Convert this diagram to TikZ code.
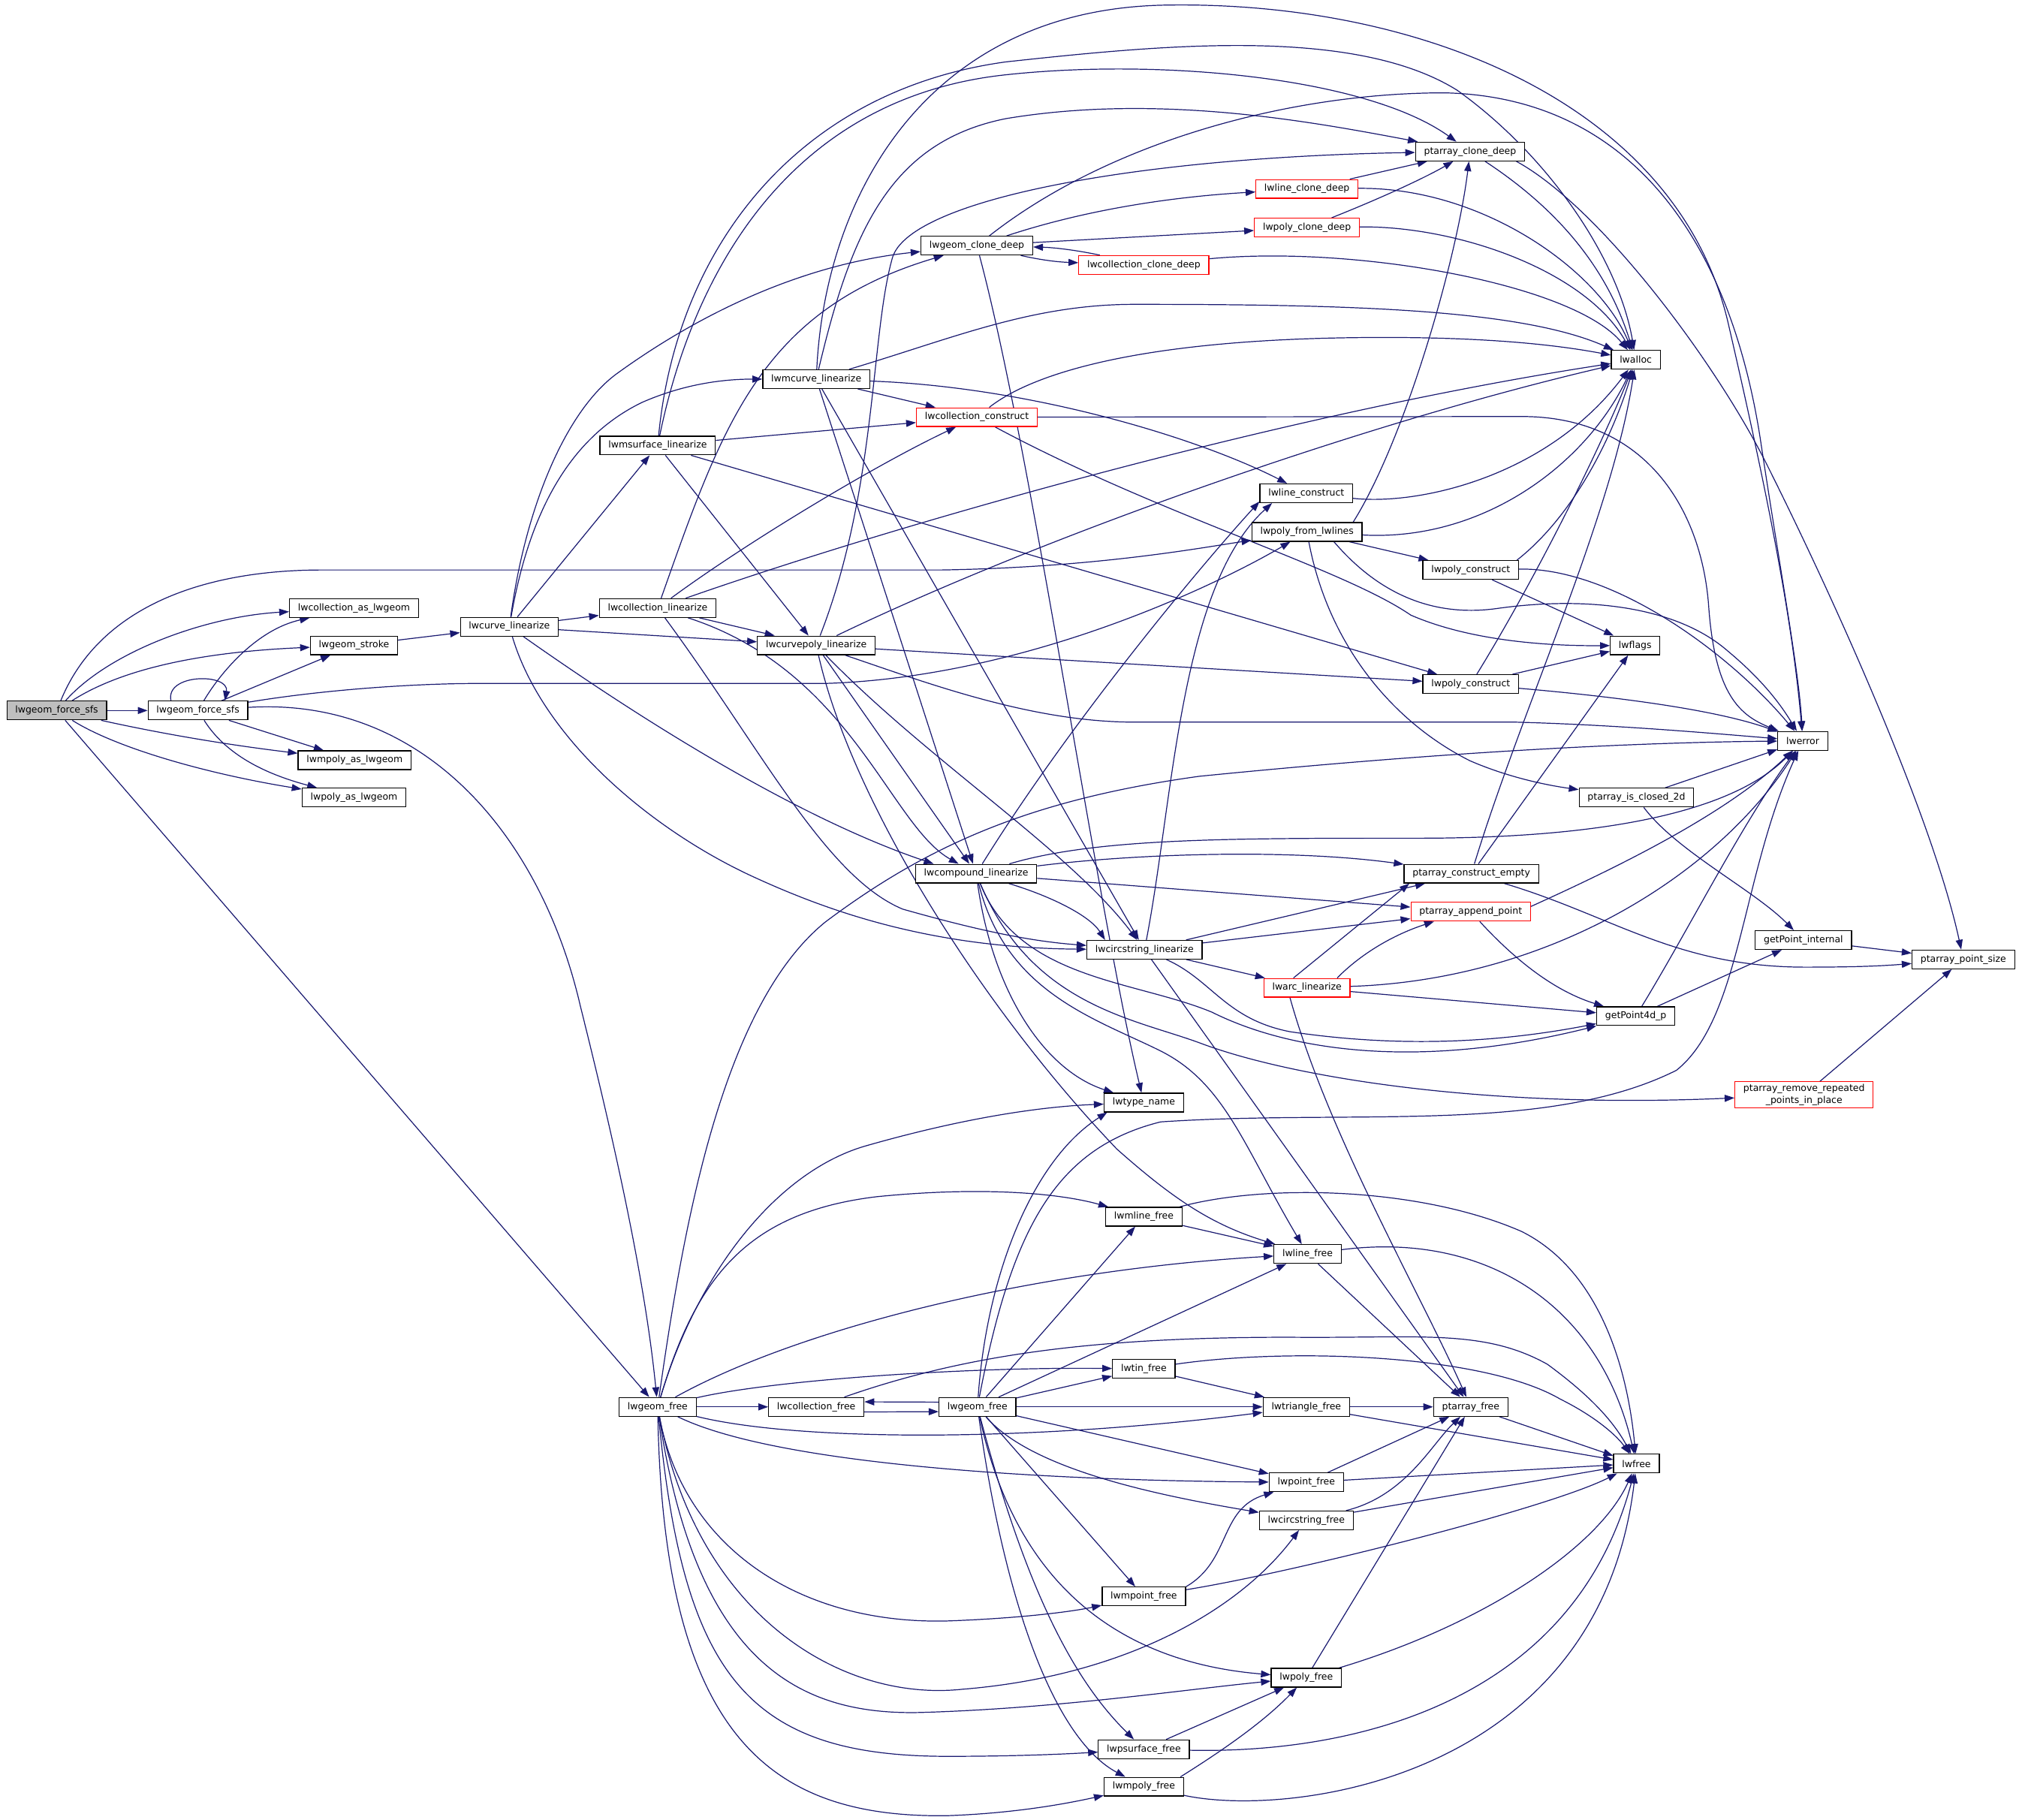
\documentclass[tikz,border=0pt]{standalone}
\usepackage{fontspec}
\setmainfont{DejaVu Sans}
\usetikzlibrary{arrows.meta}
\definecolor{edgeblue}{HTML}{191970}
\definecolor{rootgray}{HTML}{BFBFBF}
\pgfdeclarelayer{edges}
\pgfsetlayers{edges,main}

\begin{document}
\begin{tikzpicture}[x=0.03cm, y=-0.03cm,
    fn/.style={draw=black, line width=0.6pt, fill=white, minimum height=12.4pt, inner xsep=5.6pt, inner ysep=1.7pt, font=\fontsize{6.2}{7.6}\selectfont},
    fnred/.style={fn, draw=red},
    fnroot/.style={fn, fill=rootgray},
    calls/.style={draw=edgeblue, line width=0.6pt, -{Triangle[length=6.5pt,width=4.6pt]}}]
    \useasboundingbox (0,0) rectangle (1568,1411);

    \node [fnroot] (forcesfs) at (44,551) {lwgeom\_force\_sfs};
    \node [fn] (forcesfsb) at (153.5,551) {lwgeom\_force\_sfs};
    \node [fn] (collaslw) at (274.5,471.5) {lwcollection\_as\_lwgeom};
    \node [fn] (stroke) at (274.5,500.5) {lwgeom\_stroke};
    \node [fn] (mpolyaslw) at (275,589.5) {lwmpoly\_as\_lwgeom};
    \node [fn] (polyaslw) at (274.5,618.5) {lwpoly\_as\_lwgeom};
    \node [fn] (curvelin) at (395,486) {lwcurve\_linearize};
    \node [fn] (msurflin) at (510,345.5) {lwmsurface\_linearize};
    \node [fn] (colllin) at (510,471.5) {lwcollection\_linearize};
    \node [fn] (freeA) at (510,1091) {lwgeom\_free};
    \node [fn] (mcurvelin) at (633,294) {lwmcurve\_linearize};
    \node [fn] (cpolylin) at (633,500.5) {lwcurvepoly\_linearize};
    \node [fn] (collfree) at (633,1091) {lwcollection\_free};
    \node [fn] (clonedeep) at (757.5,190.5) {lwgeom\_clone\_deep};
    \node [fnred] (collconstr) at (757.5,323.5) {lwcollection\_construct};
    \node [fn] (complin) at (757,677.5) {lwcompound\_linearize};
    \node [fn] (freeB) at (758,1091) {lwgeom\_free};
    \node [fnred] (collclone) at (887,205.5) {lwcollection\_clone\_deep};
    \node [fn] (circlin) at (887.5,736.5) {lwcircstring\_linearize};
    \node [fn] (typename) at (887,855) {lwtype\_name};
    \node [fn] (mlinefree) at (887,943.5) {lwmline\_free};
    \node [fn] (tinfree) at (887,1061.5) {lwtin\_free};
    \node [fn] (mpointfree) at (887,1238) {lwmpoint\_free};
    \node [fn] (psurffree) at (887,1356.5) {lwpsurface\_free};
    \node [fn] (mpolyfree) at (887,1385.5) {lwmpoly\_free};
    \node [fnred] (lineclone) at (1013.5,146.5) {lwline\_clone\_deep};
    \node [fnred] (polyclone) at (1013.5,176.5) {lwpoly\_clone\_deep};
    \node [fn] (lineconstr) at (1013,382.5) {lwline\_construct};
    \node [fn] (polyfromlines) at (1013.5,412.5) {lwpoly\_from\_lwlines};
    \node [fnred] (arclin) at (1013.5,766) {lwarc\_linearize};
    \node [fn] (linefree) at (1014,972.5) {lwline\_free};
    \node [fn] (trifree) at (1013,1091) {lwtriangle\_free};
    \node [fn] (pointfree) at (1013,1149.5) {lwpoint\_free};
    \node [fn] (circfree) at (1013,1179) {lwcircstring\_free};
    \node [fn] (polyfree) at (1013,1301) {lwpoly\_free};
    \node [fn] (ptclone) at (1140,117.5) {ptarray\_clone\_deep};
    \node [fn] (polyconA) at (1140.5,442) {lwpoly\_construct};
    \node [fn] (polyconB) at (1140.5,530.5) {lwpoly\_construct};
    \node [fn] (ptempty) at (1141,677.5) {ptarray\_construct\_empty};
    \node [fnred] (ptappend) at (1140.5,707) {ptarray\_append\_point};
    \node [fn] (ptfree) at (1140.5,1091) {ptarray\_free};
    \node [fn] (lwalloc) at (1268.5,279) {lwalloc};
    \node [fn] (lwflags) at (1268,500.5) {lwflags};
    \node [fn] (closed2d) at (1269,618.5) {ptarray\_is\_closed\_2d};
    \node [fn] (getp4d) at (1268.5,788) {getPoint4d\_p};
    \node [fn] (lwfree) at (1269,1135) {lwfree};
    \node [fn] (lwerror) at (1398,574.5) {lwerror};
    \node [fn] (getpint) at (1398.5,729) {getPoint\_internal};
    \node [fnred, align=center] (ptremove) at (1399,849) {ptarray\_remove\_repeated\\\_points\_in\_place};
    \node [fn] (ptsize) at (1522.5,744) {ptarray\_point\_size};

    \begin{pgfonlayer}{edges}
    \draw [calls] (forcesfs) .. controls (75,475) and (150,442) .. (250,442) -- (730,442) .. controls (850,440) and (930,425) .. (polyfromlines);
    \draw [calls] (forcesfs) .. controls (85,505) and (160,478) .. (collaslw);
    \draw [calls] (forcesfs) .. controls (100,515) and (170,505) .. (stroke);
    \draw [calls] (forcesfs) -- (forcesfsb);
    \draw [calls] (forcesfs) .. controls (130,570) and (180,578) .. (mpolyaslw);
    \draw [calls] (forcesfs) .. controls (90,580) and (160,600) .. (polyaslw);
    \draw [calls] (forcesfs) -- (freeA);

    \draw [calls] (forcesfsb.160) .. controls (128,522) and (178,522) .. (forcesfsb.20);
    \draw [calls] (forcesfsb) .. controls (172,520) and (200,488) .. (collaslw);
    \draw [calls] (forcesfsb) -- (stroke);
    \draw [calls] (forcesfsb) .. controls (250,535) and (320,530) .. (372,530) -- (640,530) .. controls (800,525) and (950,450) .. (polyfromlines);
    \draw [calls] (forcesfsb) .. controls (330,540) and (420,650) .. (450,780) .. controls (475,880) and (500,990) .. (freeA);
    \draw [calls] (forcesfsb) -- (mpolyaslw);
    \draw [calls] (forcesfsb) .. controls (175,585) and (205,600) .. (polyaslw);
    \draw [calls] (stroke) -- (curvelin);

    \draw [calls] (curvelin) .. controls (410,400) and (440,340) .. (498,312) .. controls (530,298) and (560,294) .. (mcurvelin);
    \draw [calls] (curvelin) .. controls (408,390) and (440,318) .. (478,290) .. controls (540,245) and (620,205) .. (clonedeep);
    \draw [calls] (curvelin) -- (msurflin);
    \draw [calls] (curvelin) -- (colllin);
    \draw [calls] (curvelin) -- (cpolylin);
    \draw [calls] (curvelin) .. controls (420,570) and (500,640) .. (580,678) .. controls (640,706) and (720,735) .. (circlin);
    \draw [calls] (curvelin) .. controls (500,560) and (620,635) .. (complin.167);

    \draw [calls] (msurflin) .. controls (525,190) and (620,70) .. (780,48) .. controls (900,35) and (1050,20) .. (1130,70) .. controls (1200,120) and (1255,200) .. (lwalloc);
    \draw [calls] (msurflin) .. controls (540,200) and (620,75) .. (780,58) .. controls (900,45) and (1060,60) .. (ptclone);
    \draw [calls] (msurflin) -- (collconstr);
    \draw [calls] (msurflin) -- (cpolylin);
    \draw [calls] (msurflin) -- (polyconB);

    \draw [calls] (colllin) .. controls (700,405) and (1000,320) .. (lwalloc);
    \draw [calls] (colllin) .. controls (560,330) and (590,240) .. (clonedeep);
    \draw [calls] (colllin) .. controls (580,420) and (680,360) .. (collconstr);
    \draw [calls] (colllin) -- (cpolylin);
    \draw [calls] (colllin) .. controls (660,520) and (690,640) .. (complin);
    \draw [calls] (colllin) .. controls (590,580) and (640,680) .. (700,705) .. controls (760,722) and (800,730) .. (circlin);

    \draw [calls] (mcurvelin) .. controls (640,150) and (720,8) .. (902,4) .. controls (1100,0) and (1300,80) .. (1340,250) .. controls (1370,380) and (1390,480) .. (lwerror);
    \draw [calls] (mcurvelin) .. controls (660,180) and (690,110) .. (780,92) .. controls (900,72) and (1020,95) .. (ptclone);
    \draw [calls] (mcurvelin) .. controls (740,262) and (800,236) .. (880,236) .. controls (1050,236) and (1180,240) .. (lwalloc);
    \draw [calls] (mcurvelin) .. controls (800,300) and (930,340) .. (lineconstr);
    \draw [calls] (mcurvelin) -- (collconstr);
    \draw [calls] (mcurvelin) -- (complin);
    \draw [calls] (mcurvelin) -- (circlin);

    \draw [calls] (cpolylin) .. controls (800,420) and (1050,330) .. (lwalloc);
    \draw [calls] (cpolylin) .. controls (680,380) and (675,260) .. (692,200) .. controls (705,155) and (880,122) .. (ptclone);
    \draw [calls] (cpolylin) .. controls (720,530) and (800,560) .. (880,560) -- (1175,560) .. controls (1250,562) and (1320,568) .. (lwerror);
    \draw [calls] (cpolylin) -- (polyconB);
    \draw [calls] (cpolylin) -- (complin);
    \draw [calls] (cpolylin) .. controls (720,590) and (830,660) .. (circlin);
    \draw [calls] (cpolylin) .. controls (660,620) and (760,780) .. (866,891) .. controls (910,930) and (940,950) .. (linefree);

    \draw [calls] (clonedeep) .. controls (850,160) and (920,152) .. (lineclone);
    \draw [calls] (clonedeep) -- (polyclone);
    \draw [calls] (clonedeep) .. controls (800,200) and (815,203) .. (collclone);
    \draw [calls] (collclone) .. controls (840,195) and (820,192) .. (clonedeep);
    \draw [calls] (clonedeep) .. controls (800,350) and (850,700) .. (typename);
    \draw [calls] (clonedeep) .. controls (860,110) and (1000,72) .. (1120,72) .. controls (1260,75) and (1340,180) .. (1365,340) .. controls (1380,440) and (1395,520) .. (lwerror);

    \draw [calls] (collconstr) .. controls (800,290) and (880,265) .. (1040,262) .. controls (1150,260) and (1210,268) .. (lwalloc);
    \draw [calls] (collconstr) -- (1180,323) .. controls (1280,323) and (1320,400) .. (1325,470) .. controls (1330,540) and (1350,555) .. (lwerror);
    \draw [calls] (collconstr) .. controls (900,400) and (1040,440) .. (1094,477) .. controls (1140,497) and (1200,501) .. (lwflags);

    \draw [calls] (lineclone) -- (ptclone);
    \draw [calls] (lineclone) .. controls (1150,145) and (1240,210) .. (lwalloc);
    \draw [calls] (polyclone) .. controls (1080,150) and (1110,135) .. (ptclone);
    \draw [calls] (polyclone) .. controls (1130,175) and (1230,210) .. (lwalloc);
    \draw [calls] (collclone) .. controls (1050,190) and (1220,220) .. (lwalloc);
    \draw [calls] (ptclone) .. controls (1220,170) and (1250,220) .. (lwalloc);
    \draw [calls] (ptclone.-12) .. controls (1240,160) and (1330,280) .. (1370,360) .. controls (1430,480) and (1500,640) .. (ptsize);

    \draw [calls] (lineconstr) .. controls (1100,392) and (1200,370) .. (lwalloc);
    \draw [calls] (polyfromlines) .. controls (1150,420) and (1230,360) .. (lwalloc);
    \draw [calls] (polyfromlines.12) .. controls (1090,340) and (1130,200) .. (ptclone);
    \draw [calls] (polyfromlines) -- (polyconA);
    \draw [calls] (polyfromlines.-20) .. controls (1060,450) and (1100,480) .. (1160,472) .. controls (1230,462) and (1300,470) .. (1340,505) .. controls (1370,530) and (1383,550) .. (lwerror);
    \draw [calls] (polyfromlines) .. controls (1030,500) and (1080,560) .. (1140,590) .. controls (1170,603) and (1200,609) .. (closed2d);

    \draw [calls] (polyconA.12) .. controls (1220,400) and (1250,340) .. (lwalloc);
    \draw [calls] (polyconA) .. controls (1250,440) and (1340,505) .. (lwerror);
    \draw [calls] (polyconA) -- (lwflags);
    \draw [calls] (polyconB) .. controls (1190,450) and (1240,350) .. (lwalloc);
    \draw [calls] (polyconB) -- (lwflags);
    \draw [calls] (polyconB) .. controls (1250,540) and (1330,550) .. (lwerror);

    \draw [calls] (ptempty) .. controls (1180,550) and (1250,400) .. (lwalloc);
    \draw [calls] (ptempty) -- (lwflags);
    \draw [calls] (ptempty) .. controls (1250,710) and (1300,750) .. (1400,750) .. controls (1440,750) and (1460,749) .. (ptsize);
    \draw [calls] (ptappend.5) .. controls (1260,670) and (1340,630) .. (lwerror);
    \draw [calls] (ptappend) .. controls (1180,750) and (1210,770) .. (getp4d);
    \draw [calls] (getp4d) .. controls (1310,720) and (1350,640) .. (lwerror);
    \draw [calls] (getp4d) -- (getpint);
    \draw [calls] (getpint) -- (ptsize);
    \draw [calls] (closed2d) -- (lwerror);
    \draw [calls] (closed2d) .. controls (1300,660) and (1360,690) .. (getpint);
    \draw [calls] (ptremove) -- (ptsize);

    \draw [calls] (complin) .. controls (850,650) and (950,650) .. (1100,650) .. controls (1250,650) and (1345,628) .. (lwerror);
    \draw [calls] (complin) .. controls (880,662) and (1000,658) .. (ptempty);
    \draw [calls] (complin) -- (ptappend);
    \draw [calls] (complin) .. controls (815,695) and (845,710) .. (circlin.166);
    \draw [calls] (complin) .. controls (770,770) and (810,830) .. (typename);
    \draw [calls] (complin) .. controls (780,770) and (850,790) .. (900,815) .. controls (950,840) and (965,890) .. (linefree);
    \draw [calls] (complin) .. controls (790,760) and (880,760) .. (940,785) .. controls (1000,815) and (1100,830) .. (getp4d);
    \draw [calls] (complin) .. controls (800,780) and (880,790) .. (931,809) .. controls (1000,835) and (1150,860) .. (ptremove);
    \draw [calls] (complin) .. controls (830,560) and (930,440) .. (lineconstr.-170);

    \draw [calls] (circlin) .. controls (910,620) and (915,455) .. (lineconstr.-164);
    \draw [calls] (circlin) -- (ptempty.-168);
    \draw [calls] (circlin) -- (ptappend);
    \draw [calls] (circlin) -- (arclin);
    \draw [calls] (circlin) .. controls (940,760) and (950,790) .. (1000,800) .. controls (1100,815) and (1180,805) .. (getp4d);
    \draw [calls] (circlin) -- (ptfree);

    \draw [calls] (arclin.144) -- (ptempty.-171);
    \draw [calls] (arclin.18) .. controls (1055,740) and (1080,725) .. (ptappend.-165);
    \draw [calls] (arclin) .. controls (1200,760) and (1330,680) .. (lwerror);
    \draw [calls] (arclin) -- (getp4d);
    \draw [calls] (arclin.-150) .. controls (1030,880) and (1100,1000) .. (ptfree);

    \draw [calls] (freeA) .. controls (530,950) and (560,780) .. (640,715) .. controls (720,655) and (800,620) .. (930,602) .. controls (1100,585) and (1250,576) .. (lwerror);
    \draw [calls] (freeA) .. controls (540,990) and (600,910) .. (670,889) .. controls (750,866) and (810,858) .. (typename);
    \draw [calls] (freeA) .. controls (540,990) and (580,940) .. (680,928) .. controls (760,920) and (820,925) .. (mlinefree);
    \draw [calls] (freeA) .. controls (620,1030) and (800,985) .. (linefree);
    \draw [calls] (freeA) -- (collfree);
    \draw [calls] (freeA) .. controls (600,1070) and (750,1060) .. (tinfree);
    \draw [calls] (freeA) .. controls (620,1118) and (800,1118) .. (trifree);
    \draw [calls] (freeA) .. controls (600,1135) and (800,1148) .. (pointfree);
    \draw [calls] (freeA) .. controls (540,1250) and (650,1320) .. (746,1310) .. controls (870,1300) and (960,1250) .. (circfree);
    \draw [calls] (freeA) .. controls (530,1200) and (620,1260) .. (735,1257) .. controls (790,1255) and (830,1250) .. (mpointfree);
    \draw [calls] (freeA) .. controls (540,1290) and (620,1330) .. (713,1328) .. controls (820,1325) and (920,1310) .. (polyfree);
    \draw [calls] (freeA) .. controls (530,1300) and (580,1362) .. (735,1362) .. controls (790,1362) and (830,1360) .. (psurffree);
    \draw [calls] (freeA) .. controls (515,1350) and (600,1410) .. (735,1408) .. controls (790,1406) and (830,1398) .. (mpolyfree);

    \draw [calls] (freeB) .. controls (765,990) and (800,900) .. (typename.-165);
    \draw [calls] (freeB) .. controls (785,950) and (820,890) .. (900,870) .. controls (1050,860) and (1200,880) .. (1300,830) .. controls (1350,790) and (1350,680) .. (lwerror);
    \draw [calls] (freeB) -- (mlinefree);
    \draw [calls] (freeB) -- (linefree);
    \draw [calls] (freeB.173) -- (collfree.6);
    \draw [calls] (collfree.-6) -- (freeB.-173);
    \draw [calls] (freeB) -- (tinfree);
    \draw [calls] (freeB) -- (trifree);
    \draw [calls] (freeB) -- (pointfree);
    \draw [calls] (freeB) .. controls (800,1140) and (900,1160) .. (circfree);
    \draw [calls] (freeB) -- (mpointfree);
    \draw [calls] (freeB) .. controls (790,1240) and (880,1290) .. (polyfree);
    \draw [calls] (freeB) .. controls (800,1250) and (840,1310) .. (psurffree);
    \draw [calls] (freeB) .. controls (780,1250) and (820,1350) .. (mpolyfree);

    \draw [calls] (collfree) .. controls (750,1050) and (850,1037) .. (1000,1037) .. controls (1100,1038) and (1150,1030) .. (1200,1058) .. controls (1230,1080) and (1250,1100) .. (lwfree);
    \draw [calls] (mlinefree) -- (linefree);
    \draw [calls] (mlinefree) .. controls (980,918) and (1100,920) .. (1180,955) .. controls (1240,985) and (1262,1060) .. (lwfree);
    \draw [calls] (linefree) -- (ptfree);
    \draw [calls] (linefree) .. controls (1150,955) and (1240,1010) .. (lwfree);
    \draw [calls] (tinfree) -- (trifree);
    \draw [calls] (tinfree) .. controls (1000,1045) and (1150,1050) .. (1210,1085) .. controls (1240,1100) and (1255,1115) .. (lwfree);
    \draw [calls] (trifree) -- (ptfree);
    \draw [calls] (trifree) -- (lwfree);
    \draw [calls] (ptfree) -- (lwfree);
    \draw [calls] (pointfree) -- (ptfree);
    \draw [calls] (pointfree) -- (lwfree);
    \draw [calls] (circfree) .. controls (1090,1160) and (1110,1120) .. (ptfree);
    \draw [calls] (circfree) -- (lwfree);
    \draw [calls] (mpointfree.13) .. controls (955,1210) and (945,1170) .. (pointfree);
    \draw [calls] (mpointfree) .. controls (1000,1220) and (1200,1170) .. (lwfree);
    \draw [calls] (polyfree) -- (ptfree);
    \draw [calls] (polyfree) .. controls (1150,1260) and (1240,1200) .. (lwfree);
    \draw [calls] (psurffree) -- (polyfree);
    \draw [calls] (psurffree) .. controls (1050,1360) and (1220,1320) .. (lwfree);
    \draw [calls] (mpolyfree.15) .. controls (960,1350) and (985,1330) .. (polyfree);
    \draw [calls] (mpolyfree) .. controls (1000,1410) and (1240,1380) .. (lwfree);
    \end{pgfonlayer}
\end{tikzpicture}
\end{document}
